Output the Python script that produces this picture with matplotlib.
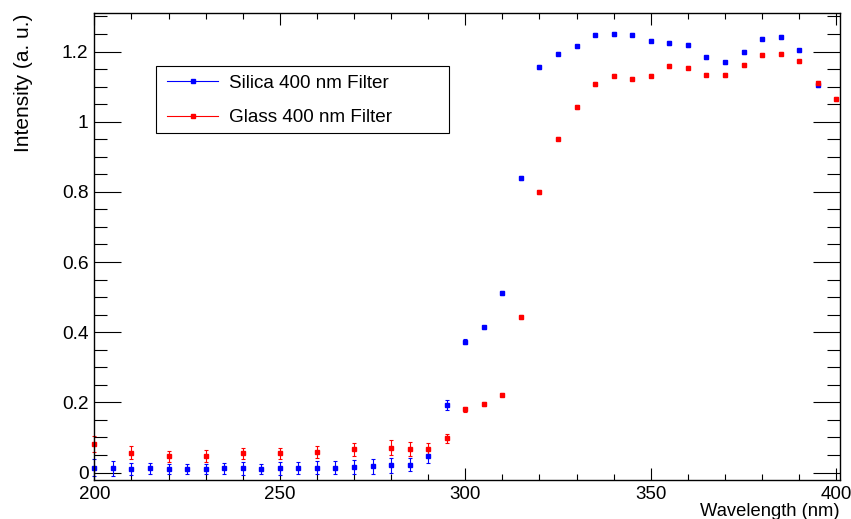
import numpy as np
import matplotlib
matplotlib.use('Agg')
import matplotlib.pyplot as plt
from matplotlib.patches import Rectangle
from matplotlib.ticker import MultipleLocator, FormatStrFormatter

plt.rcParams['font.family'] = ['Liberation Sans', 'DejaVu Sans']

# Silica 400 nm filter (blue)
silica_wl = [200, 205, 210, 215, 220, 225, 230, 235, 240, 245,
             250, 255, 260, 265, 270, 275, 280, 285, 290, 295,
             300, 305, 310, 315, 320, 325, 330, 335, 340, 345,
             350, 355, 360, 365, 370, 375, 380, 385, 390, 395]
silica_int = [0.014, 0.012, 0.010, 0.012, 0.010, 0.010, 0.010, 0.012, 0.012, 0.010,
              0.012, 0.014, 0.014, 0.014, 0.017, 0.018, 0.020, 0.022, 0.048, 0.192,
              0.373, 0.414, 0.511, 0.840, 1.156, 1.194, 1.215, 1.248, 1.250, 1.248,
              1.231, 1.225, 1.219, 1.183, 1.169, 1.199, 1.237, 1.242, 1.203, 1.105]
silica_err = [0.024, 0.021, 0.018, 0.016, 0.015, 0.014, 0.014, 0.016, 0.018, 0.013,
              0.018, 0.017, 0.018, 0.018, 0.020, 0.021, 0.022, 0.019, 0.020, 0.015,
              0.008, 0.005, 0.005, 0.005, 0.005, 0.005, 0.005, 0.005, 0.005, 0.005,
              0.005, 0.005, 0.005, 0.005, 0.005, 0.005, 0.005, 0.005, 0.005, 0.005]

# Glass 400 nm filter (red)
glass_wl = [200, 210, 220, 230, 240, 250, 260, 270, 280, 285,
            290, 295, 300, 305, 310, 315, 320, 325, 330, 335,
            340, 345, 350, 355, 360, 365, 370, 375, 380, 385,
            390, 395, 400]
glass_int = [0.081, 0.057, 0.046, 0.048, 0.055, 0.055, 0.059, 0.066, 0.071, 0.067,
             0.066, 0.097, 0.180, 0.195, 0.222, 0.443, 0.800, 0.952, 1.042, 1.107,
             1.131, 1.123, 1.131, 1.159, 1.154, 1.134, 1.133, 1.161, 1.190, 1.194,
             1.172, 1.110, 1.064]
glass_err = [0.023, 0.018, 0.015, 0.017, 0.016, 0.016, 0.017, 0.019, 0.021, 0.019,
             0.017, 0.014, 0.008, 0.005, 0.005, 0.005, 0.005, 0.005, 0.005, 0.005,
             0.005, 0.005, 0.005, 0.005, 0.005, 0.005, 0.005, 0.005, 0.005, 0.005,
             0.005, 0.005, 0.005]

fig = plt.figure(figsize=(8.51, 5.19), dpi=100)
ax = fig.add_axes([0.1105, 0.0751, 0.8765, 0.8993])

ax.errorbar(silica_wl, silica_int, yerr=silica_err, fmt='s', color='blue',
            ms=3.5, elinewidth=0.8, capsize=1.5, capthick=0.8, clip_on=False)
ax.errorbar(glass_wl, glass_int, yerr=glass_err, fmt='s', color='red',
            ms=3.5, elinewidth=0.8, capsize=1.5, capthick=0.8, clip_on=False)

ax.set_xlim(199.9, 401)
ax.set_ylim(-0.0214, 1.309)

ax.xaxis.set_major_locator(MultipleLocator(50))
ax.xaxis.set_minor_locator(MultipleLocator(10))
ax.yaxis.set_major_locator(MultipleLocator(0.2))
ax.yaxis.set_minor_locator(MultipleLocator(0.05))
ax.yaxis.set_major_formatter(FormatStrFormatter('%g'))

ax.tick_params(axis='x', which='major', direction='in', top=True, bottom=True,
               length=8.6, width=0.8, labelsize=13.5, pad=4)
ax.tick_params(axis='x', which='minor', direction='in', top=True, bottom=True,
               length=4.3, width=0.8)
ax.tick_params(axis='y', which='major', direction='in', left=True, right=True,
               length=19.2, width=0.8, labelsize=13.8, pad=4)
ax.tick_params(axis='y', which='minor', direction='in', left=True, right=True,
               length=9.6, width=0.8)
for s in ax.spines.values():
    s.set_linewidth(1.0)

ax.set_xlabel('Wavelength (nm)', fontsize=13.2, loc='right')
ax.xaxis.set_label_coords(1.0, -0.05)
ax.set_ylabel('Intensity (a. u.)', fontsize=15, loc='top')
ax.yaxis.set_label_coords(-0.082, 1.0)

# legend box like ROOT TLegend
ax.add_patch(Rectangle((0.0831, 0.743), 0.393, 0.145, transform=ax.transAxes,
                       fill=True, facecolor='white', edgecolor='black', lw=0.8, zorder=5))
h1, = ax.plot([], [], '-s', color='blue', lw=0.8, ms=2.5)
h2, = ax.plot([], [], '-s', color='red', lw=0.8, ms=2.5)
leg = ax.legend([h1, h2], ['Silica 400 nm Filter', 'Glass 400 nm Filter'],
                loc='upper left', bbox_to_anchor=(0.098, 0.869), frameon=False,
                fontsize=13.6, handlelength=2.7, handletextpad=0.6,
                labelspacing=0.93, borderpad=0, borderaxespad=0)
leg.set_zorder(6)

fig.savefig('out.png', dpi=100)
